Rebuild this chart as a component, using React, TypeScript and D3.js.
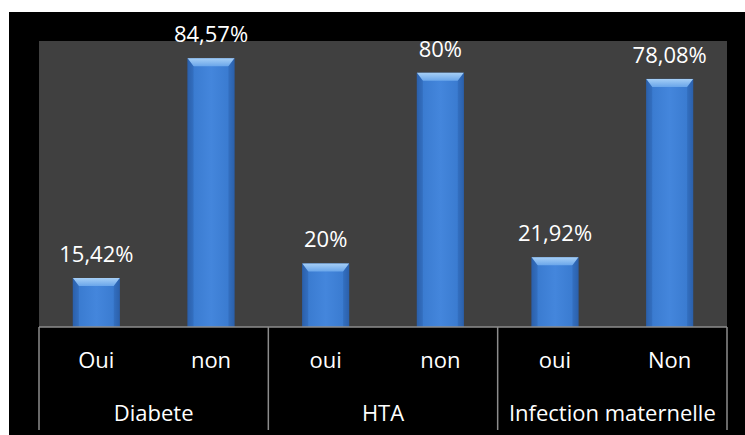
import React from 'react';
import * as d3 from 'd3';

const groups = ['Diabete', 'HTA', 'Infection maternelle'];
const answers = ['Oui', 'non', 'oui', 'non', 'oui', 'Non'];
const values = [15.42, 84.57, 20, 80, 21.92, 78.08];
const valueLabels = ['15,42%', '84,57%', '20%', '80%', '21,92%', '78,08%'];

const W = 745;
const H = 435;
const plot = { left: 39, top: 41, right: 727, bottom: 327 };

export default function App() {
  const x = d3.scaleBand<number>()
    .domain(d3.range(values.length))
    .range([plot.left, plot.right])
    .padding(0);
  const y = d3.scaleLinear().domain([0, 90]).range([plot.bottom, plot.top]);
  const groupX = d3.scaleBand<string>()
    .domain(groups)
    .range([plot.left, plot.right])
    .padding(0);

  const barW = x.bandwidth() * 0.41;
  const font = '"Open Sans", Lato, sans-serif';
  const bev = 8;

  return (
    <svg width={W} height={H} style={{ position: 'absolute', left: 0, top: 0 }}>
      <defs>
        <linearGradient id="side" x1="0" x2="1" y1="0" y2="0">
          <stop offset="0%" stopColor="#2a5ea8" />
          <stop offset="12%" stopColor="#3a7bd0" />
          <stop offset="50%" stopColor="#4486dc" />
          <stop offset="88%" stopColor="#3a7bd0" />
          <stop offset="100%" stopColor="#2a5ea8" />
        </linearGradient>
        <linearGradient id="top" x1="0" x2="0" y1="0" y2="1">
          <stop offset="0%" stopColor="#a6cff6" />
          <stop offset="100%" stopColor="#6aa6ea" />
        </linearGradient>
      </defs>
      <rect x={0} y={0} width={W} height={H} fill="#ffffff" />
      <rect x={9} y={12} width={W - 9} height={H - 12} fill="#000000" />
      <rect x={plot.left} y={plot.top} width={plot.right - plot.left} height={plot.bottom - plot.top} fill="#404040" />

      {values.map((v, i) => {
        const cx = (x(i) as number) + x.bandwidth() / 2;
        const x0 = cx - barW / 2;
        const yt = y(v);
        return (
          <g key={i}>
            <rect x={x0} y={yt} width={barW} height={plot.bottom - yt} fill="url(#side)" />
            <polygon
              points={`${x0},${yt} ${x0 + barW},${yt} ${x0 + barW - 6},${yt + bev} ${x0 + 6},${yt + bev}`}
              fill="url(#top)"
            />
            <polygon
              points={`${x0},${yt} ${x0 + 6},${yt + bev} ${x0 + 6},${plot.bottom} ${x0},${plot.bottom}`}
              fill="#2c62ae" opacity={0.5}
            />
            <polygon
              points={`${x0 + barW},${yt} ${x0 + barW - 6},${yt + bev} ${x0 + barW - 6},${plot.bottom} ${x0 + barW},${plot.bottom}`}
              fill="#2c62ae" opacity={0.5}
            />
            <text x={cx} y={yt - 16} textAnchor="middle" fill="#ffffff" fontFamily={font} fontSize={22}>
              {valueLabels[i]}
            </text>
            <text x={cx} y={368} textAnchor="middle" fill="#ffffff" fontFamily={font} fontSize={22}>
              {answers[i]}
            </text>
          </g>
        );
      })}

      <line x1={plot.left} x2={plot.right} y1={plot.bottom} y2={plot.bottom} stroke="#8c8c8c" strokeWidth={1.5} />
      {groups.map((g) => (
        <text key={g} x={(groupX(g) as number) + groupX.bandwidth() / 2} y={421} textAnchor="middle"
          fill="#ffffff" fontFamily={font} fontSize={22}>
          {g}
        </text>
      ))}
      {[...groups.map((g) => groupX(g) as number), plot.right].map((gx, i) => (
        <line key={i} x1={gx} x2={gx} y1={plot.bottom} y2={430} stroke="#8c8c8c" strokeWidth={1.5} />
      ))}
    </svg>
  );
}
